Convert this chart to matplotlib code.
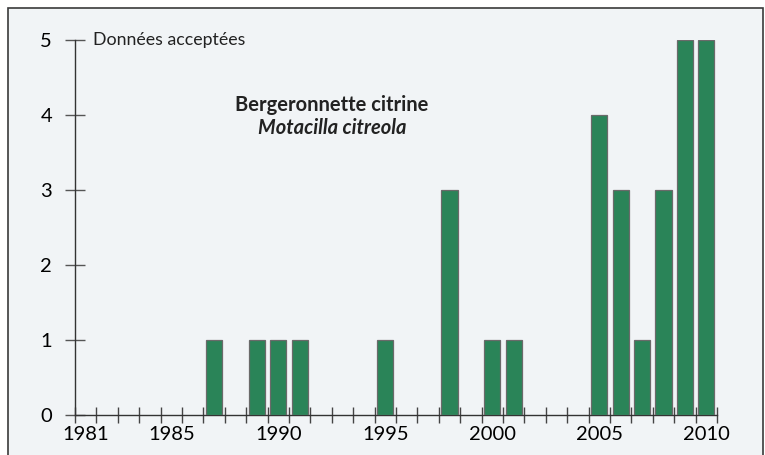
import numpy as np
import matplotlib
matplotlib.use("Agg")
from matplotlib import pyplot as plt
from matplotlib.patches import Rectangle

# data
years = [1987, 1989, 1990, 1991, 1995, 1998, 2000, 2001,
         2005, 2006, 2007, 2008, 2009, 2010]
counts = [1, 1, 1, 1, 1, 3, 1, 1, 4, 3, 1, 3, 5, 5]
tick_years = [1981, 1985, 1990, 1995, 2000, 2005, 2010]
y_ticks = [0, 1, 2, 3, 4, 5]

bg = '#f1f4f6'
green = '#2a8458'
dark = '#333333'

plt.rcParams.update({'font.family': ['Lato', 'DejaVu Sans'],
                     'text.color': '#222222'})

fig = plt.figure(figsize=(7.65, 4.55), dpi=100)
fig.patch.set_facecolor('white')
W, H = 765, 455

# framed panel, open at the bottom
frame = fig.add_axes([0, 0, 1, 1], zorder=-1)
frame.set_axis_off()
frame.set_xlim(0, W)
frame.set_ylim(H, 0)
frame.add_patch(Rectangle((8, 8), 763 - 8, 470, facecolor=bg,
                          edgecolor='#3a3a3a', linewidth=1.2))

ax = fig.add_axes([75 / W, 40 / H, (717 - 75) / W, (415 - 40) / H])
ax.set_facecolor('none')

ax.bar(years, counts, width=0.75, color=green, edgecolor='#6a6a6a',
       linewidth=0.9, zorder=3)

ax.set_xlim(1980.5, 2010.5)
ax.set_ylim(0, 5)

for s in ['top', 'right']:
    ax.spines[s].set_visible(False)
for s in ['left', 'bottom']:
    ax.spines[s].set_color(dark)
    ax.spines[s].set_linewidth(1.0)

ax.set_yticks(y_ticks)
ax.set_yticklabels([str(v) for v in y_ticks], fontsize=14.5)
ax.tick_params(axis='y', direction='inout', length=15, width=1.0,
               color='#555555', pad=9)

ax.set_xticks(tick_years)
ax.set_xticklabels([str(v) for v in tick_years], fontsize=14.5)
ax.tick_params(axis='x', which='major', length=0, pad=8)
ax.set_xticks(np.arange(1980.5, 2011, 1.0), minor=True)
ax.tick_params(axis='x', which='minor', direction='inout', length=11,
               width=1.0, color='#444444')

ax.annotate('Données acceptées', xy=(1980.5, 5), xycoords='data',
            xytext=(13, 0), textcoords='offset points', fontsize=12.8,
            va='center', ha='left', annotation_clip=False)

ax.text(1992.5, 4.13, 'Bergeronnette citrine', fontsize=14.5,
        fontweight='bold', ha='center', va='center')
ax.text(1992.5, 3.82, 'Motacilla citreola', fontsize=14.5, fontweight='bold',
        style='italic', ha='center', va='center')

fig.savefig('out.png', dpi=100, facecolor='white')
